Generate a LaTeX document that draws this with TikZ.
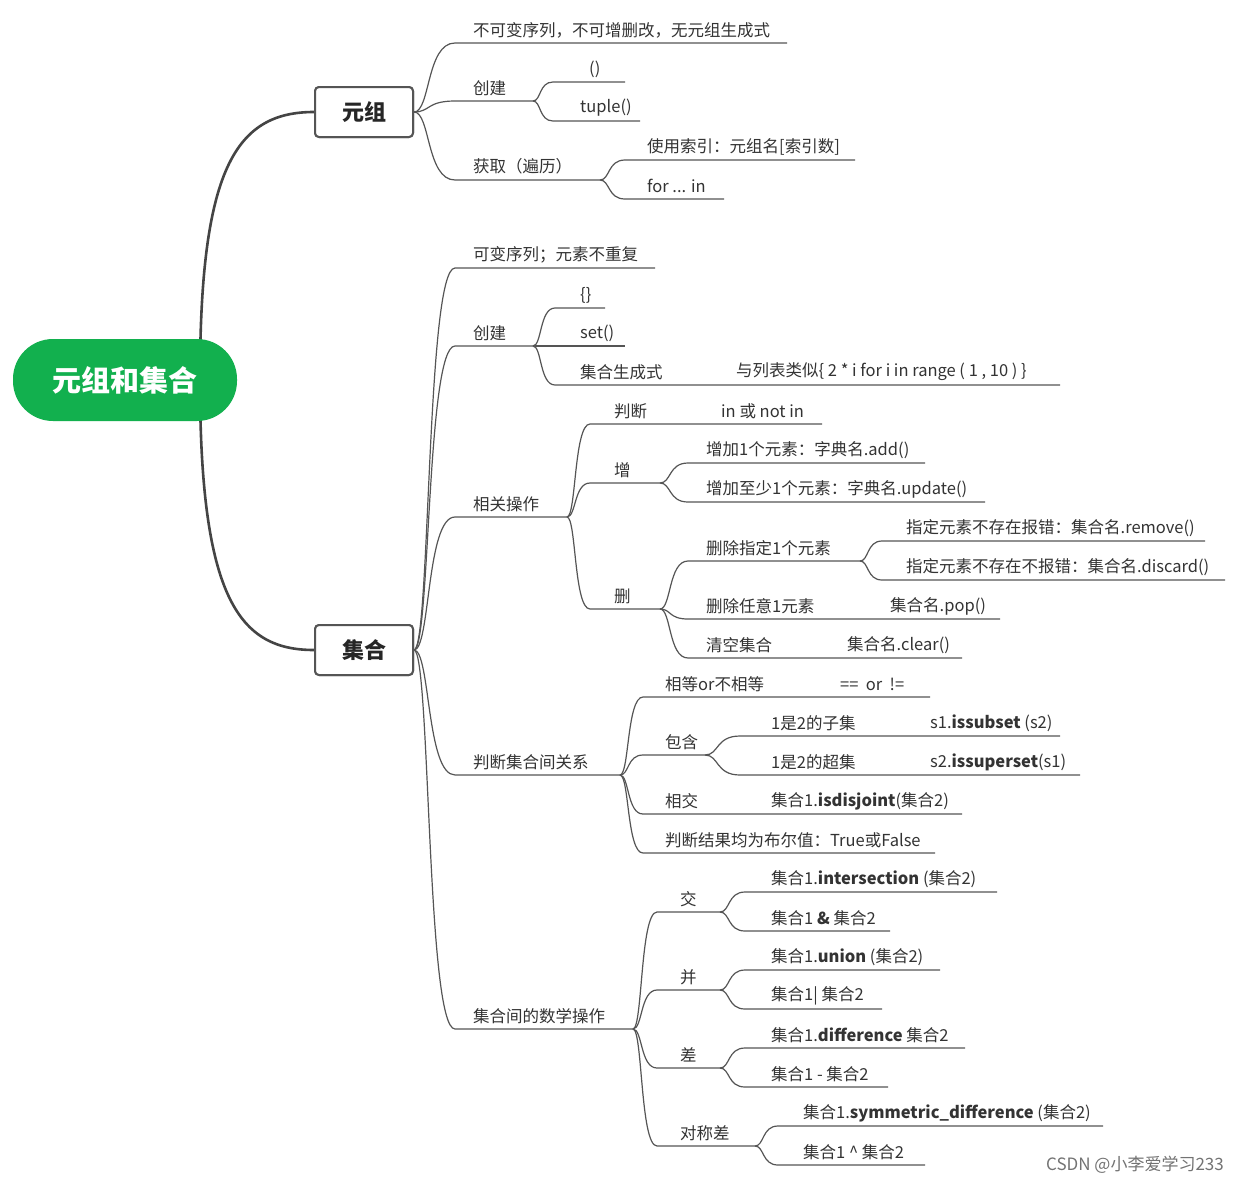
\documentclass[tikz,border=0pt]{standalone}
\usepackage{fontspec}
\setmainfont{Noto Sans CJK SC}
\usetikzlibrary{calc}
\definecolor{ln}{HTML}{555555}
\definecolor{tx}{HTML}{333333}
\definecolor{gr}{HTML}{12B04E}
\tikzset{
 lbl/.style={anchor=west,inner sep=0pt,text=tx,font=\fontsize{16.5}{20}\selectfont},
 bl/.style={draw=ln,line width=1.2pt},
 tbox/.style={draw=ln,line width=2pt,rounded corners=4pt,fill=white,minimum width=98pt,minimum height=50pt,font=\fontsize{22}{26}\selectfont\bfseries,text=black!85},
}
% \br{parent}{name}{xs}{xe}{y}
\newcommand\br[5]{%
 \coordinate (#2s) at (#3,#5); \coordinate (#2e) at (#4,#5);
 \path ($(#1)!0.4!(#2s)$) coordinate (#2m1) ($(#1)!0.3!(#2s)$) coordinate (#2m2);
 \draw[bl] (#1) .. controls (#2m1 |- #1) and (#2m2 |- #2s) .. (#2s) -- (#2e);}
\begin{document}
\begin{tikzpicture}[x=1pt,y=-1pt]
\useasboundingbox (0,0) rectangle (1239,1184);
\fill[white] (0,0) rectangle (1239,1184);
% main curves
\coordinate (r1) at (200,380);
\node[tbox] (t) at (364,112) {元组};
\node[tbox] (s) at (364,650) {集合};
\draw[draw=ln!80!black,line width=2.6pt] (r1) .. controls (200,170) and (235,112) .. (t.west);
\draw[draw=ln!80!black,line width=2.6pt] (r1) .. controls (200,600) and (240,650) .. (s.west);
\node[fill=gr,rounded corners=40pt,minimum width=224pt,minimum height=82pt,text=white,font=\fontsize{29}{32}\selectfont\bfseries] (root) at (125,380) {元组和集合};
\node[tbox] at (364,112) {元组};
\node[tbox] at (364,650) {集合};
% tuple
\br{t.east}{a1}{455}{787}{43}
\node[lbl] (na1) at (473,30) {不可变序列，不可增删改，无元组生成式};
\br{t.east}{a2}{455}{533}{101}
\node[lbl] (na2) at (473,88) {创建};
\br{a2e}{a21}{553}{625}{82}
\node[lbl] (na21) at (589,69) {()};
\br{a2e}{a22}{553}{640}{121}
\node[lbl] (na22) at (580,108) {tuple()};
\br{t.east}{a3}{455}{600}{180}
\node[lbl] (na3) at (473,166) {获取（遍历）};
\br{a3e}{a31}{625}{855}{160}
\node[lbl] (na31) at (647,147) {使用索引：元组名[索引数]};
\br{a3e}{a32}{625}{724}{199}
\node[lbl] (na32) at (647,186) {for ... in};
% set
\br{s.east}{b1}{455}{655}{268}
\node[lbl] (nb1) at (473,255) {可变序列；元素不重复};
\br{s.east}{b2}{455}{533}{346}
\node[lbl] (nb2) at (473,333) {创建};
\br{b2e}{b21}{555}{605}{308}
\node[lbl] (nb21) at (580,295) {\{\}};
\br{b2e}{b22}{555}{625}{346}
\node[lbl] (nb22) at (580,333) {set()};
\br{b2e}{b23}{555}{1060}{385}
\node[lbl] (nb23) at (580,372) {集合生成式};
\node[lbl] (nb231) at (736,372) {与列表类似\{ 2 * i for i in range ( 1 , 10 ) \}};
\br{s.east}{b3}{455}{567}{517}
\node[lbl] (nb3) at (473,504) {相关操作};
\br{b3e}{c1}{590}{822}{424}
\node[lbl] (nc1) at (614,411) {判断};
\node[lbl] (nc11) at (721,411) {in 或 not in};
\br{b3e}{c2}{590}{660}{483}
\node[lbl] (nc2) at (614,470) {增};
\br{c2e}{c21}{688}{925}{463}
\node[lbl] (nc21) at (706,450) {增加1个元素：字典名.add()};
\br{c2e}{c22}{688}{985}{502}
\node[lbl] (nc22) at (706,489) {增加至少1个元素：字典名.update()};
\br{b3e}{c3}{590}{660}{609}
\node[lbl] (nc3) at (614,596) {删};
\br{c3e}{c31}{688}{860}{561}
\node[lbl] (nc31) at (706,548) {删除指定1个元素};
\br{c31e}{c311}{882}{1205}{541}
\node[lbl] (nc311) at (906,528) {指定元素不存在报错：集合名.remove()};
\br{c31e}{c312}{882}{1225}{580}
\node[lbl] (nc312) at (906,567) {指定元素不存在不报错：集合名.discard()};
\br{c3e}{c32}{688}{1000}{619}
\node[lbl] (nc32) at (706,606) {删除任意1元素};
\node[lbl] (nc321) at (890,606) {集合名.pop()};
\br{c3e}{c33}{688}{962}{658}
\node[lbl] (nc33) at (706,645) {清空集合};
\node[lbl] (nc331) at (847,645) {集合名.clear()};
\br{s.east}{b4}{455}{620}{775}
\node[lbl] (nb4) at (473,762) {判断集合间关系};
\br{b4e}{d1}{643}{930}{697}
\node[lbl] (nd1) at (665,684) {相等or不相等};
\node[lbl] (nd11) at (840,684) {==\ \ or\ \ !=};
\br{b4e}{d2}{643}{705}{755}
\node[lbl] (nd2) at (665,742) {包含};
\br{d2e}{d21}{740}{1060}{736}
\node[lbl] (nd21) at (771,723) {1是2的子集};
\node[lbl] (nd211) at (930,723) {s1.\textbf{issubset} (s2)};
\br{d2e}{d22}{740}{1080}{775}
\node[lbl] (nd22) at (771,762) {1是2的超集};
\node[lbl] (nd221) at (930,762) {s2.\textbf{issuperset}(s1)};
\br{b4e}{d3}{643}{962}{814}
\node[lbl] (nd3) at (665,801) {相交};
\node[lbl] (nd31) at (771,801) {集合1.\textbf{isdisjoint}(集合2)};
\br{b4e}{d4}{643}{935}{853}
\node[lbl] (nd4) at (665,840) {判断结果均为布尔值：True或False};
\br{s.east}{b5}{455}{633}{1029}
\node[lbl] (nb5) at (473,1016) {集合间的数学操作};
\br{b5e}{e1}{657}{720}{912}
\node[lbl] (ne1) at (680,899) {交};
\br{e1e}{e11}{745}{997}{892}
\node[lbl] (ne11) at (771,879) {集合1.\textbf{intersection} (集合2)};
\br{e1e}{e12}{745}{890}{931}
\node[lbl] (ne12) at (771,918) {集合1 \textbf{\&} 集合2};
\br{b5e}{e2}{657}{720}{990}
\node[lbl] (ne2) at (680,977) {并};
\br{e2e}{e21}{745}{940}{970}
\node[lbl] (ne21) at (771,957) {集合1.\textbf{union} (集合2)};
\br{e2e}{e22}{745}{882}{1009}
\node[lbl] (ne22) at (771,996) {集合1| 集合2};
\br{b5e}{e3}{657}{720}{1068}
\node[lbl] (ne3) at (680,1055) {差};
\br{e3e}{e31}{745}{965}{1048}
\node[lbl] (ne31) at (771,1035) {集合1.\textbf{difference} 集合2};
\br{e3e}{e32}{745}{888}{1087}
\node[lbl] (ne32) at (771,1074) {集合1 - 集合2};
\br{b5e}{e4}{657}{755}{1146}
\node[lbl] (ne4) at (680,1133) {对称差};
\br{e4e}{e41}{778}{1103}{1126}
\node[lbl] (ne41) at (803,1113) {集合1.\textbf{symmetric\_difference} (集合2)};
\br{e4e}{e42}{778}{925}{1165}
\node[lbl] (ne42) at (803,1152) {集合1 \^{} 集合2};
\node[anchor=east,inner sep=0pt,text=black!55,font=\fontsize{17}{20}\selectfont] (csdn) at (1224,1165) {CSDN @小李爱学习233};
\end{tikzpicture}
\end{document}
